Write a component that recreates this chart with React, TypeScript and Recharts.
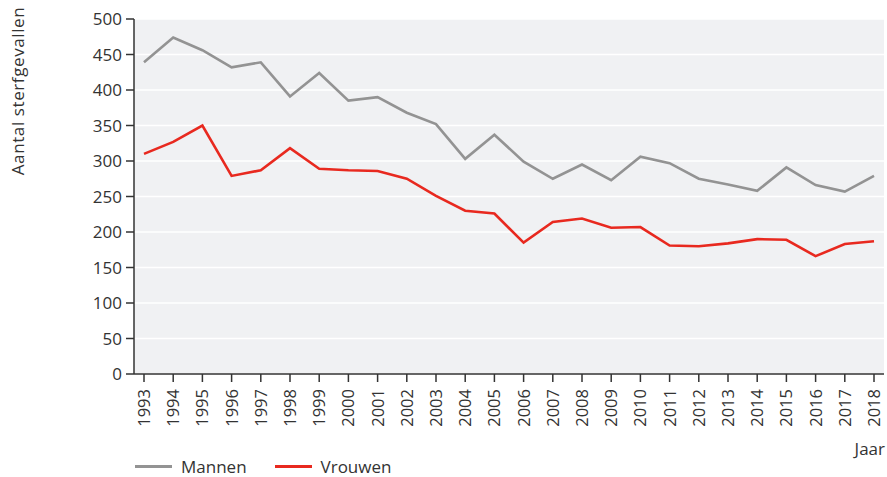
import { LineChart, Line, XAxis, YAxis, CartesianGrid } from "recharts";

// Jaren
const YEARS = [
  "1993", "1994", "1995", "1996", "1997", "1998", "1999", "2000", "2001",
  "2002", "2003", "2004", "2005", "2006", "2007", "2008", "2009", "2010",
  "2011", "2012", "2013", "2014", "2015", "2016", "2017", "2018",
];

// Aantal sterfgevallen per jaar
const MANNEN = [
  439, 474, 456, 432, 439, 391, 424, 385, 390, 368, 352, 303, 337,
  299, 275, 295, 273, 306, 297, 275, 267, 258, 291, 266, 257, 279,
];
const VROUWEN = [
  310, 327, 350, 279, 287, 318, 289, 287, 286, 275, 251, 230, 226,
  185, 214, 219, 206, 207, 181, 180, 184, 190, 189, 166, 183, 187,
];

const Y_TICKS = [0, 50, 100, 150, 200, 250, 300, 350, 400, 450, 500];

const GREY = "#939393";
const RED = "#e8291f";
const FONT = "'Open Sans', sans-serif";

const data = YEARS.map((jaar, i) => ({
  jaar,
  Mannen: MANNEN[i],
  Vrouwen: VROUWEN[i],
}));

// Verticale jaartallen onder de as
function YearTick(props: any) {
  const { x, y, payload } = props;
  return (
    <text
      x={x}
      y={y}
      transform={`rotate(-90, ${x}, ${y})`}
      textAnchor="end"
      dy="0.36em"
      fill="#333"
      fontSize={16.5}
      fontFamily={FONT}
    >
      {payload.value}
    </text>
  );
}

const LEGEND = [
  { name: "Mannen", color: GREY },
  { name: "Vrouwen", color: RED },
];

export default function App() {
  return (
    <div style={{ position: "absolute", left: 0, top: 0, width: 887, height: 477, background: "#fff" }}>
      <LineChart
        width={887}
        height={477}
        data={data}
        margin={{ top: 19, right: 3, left: 0, bottom: 43 }}
      >
        <CartesianGrid vertical={false} stroke="#ffffff" strokeWidth={1.5} fill="#f0f1f3" />
        <XAxis
          dataKey="jaar"
          padding={{ left: 10, right: 10 }}
          tick={<YearTick />}
          tickSize={8}
          tickMargin={7}
          height={60}
          interval={0}
          stroke="#333"
          axisLine={{ stroke: "#333", strokeWidth: 1.5 }}
          tickLine={{ stroke: "#333", strokeWidth: 1.5 }}
        />
        <YAxis
          width={134}
          domain={[0, 500]}
          ticks={Y_TICKS}
          tickSize={8}
          tickMargin={4}
          interval={0}
          tick={{ fill: "#333", fontSize: 17, fontFamily: FONT }}
          axisLine={{ stroke: "#333", strokeWidth: 1.5 }}
          tickLine={{ stroke: "#333", strokeWidth: 1.5 }}
        />
        <Line
          type="linear"
          dataKey="Mannen"
          stroke={GREY}
          strokeWidth={2.6}
          dot={false}
          isAnimationActive={false}
        />
        <Line
          type="linear"
          dataKey="Vrouwen"
          stroke={RED}
          strokeWidth={2.6}
          dot={false}
          isAnimationActive={false}
        />
      </LineChart>

      {/* Legenda */}
      <div
        style={{
          position: "absolute",
          left: 135,
          top: 455,
          display: "flex",
          alignItems: "center",
          fontFamily: FONT,
          fontSize: 17,
          color: "#333",
        }}
      >
        {LEGEND.map((it) => (
          <div key={it.name} style={{ display: "flex", alignItems: "center", marginRight: 28 }}>
            <span style={{ display: "inline-block", width: 37, height: 3, background: it.color, marginRight: 9 }} />
            <span>{it.name}</span>
          </div>
        ))}
      </div>

      <div
        style={{
          position: "absolute",
          left: 17,
          top: 91,
          transform: "translate(-50%, -50%) rotate(-90deg)",
          whiteSpace: "nowrap",
          fontFamily: FONT,
          fontSize: 17,
          letterSpacing: 0.6,
          color: "#333",
        }}
      >
        Aantal sterfgevallen
      </div>
      <div
        style={{
          position: "absolute",
          right: 2,
          top: 437,
          whiteSpace: "nowrap",
          fontFamily: FONT,
          fontSize: 17,
          color: "#333",
        }}
      >
        Jaar
      </div>
    </div>
  );
}
